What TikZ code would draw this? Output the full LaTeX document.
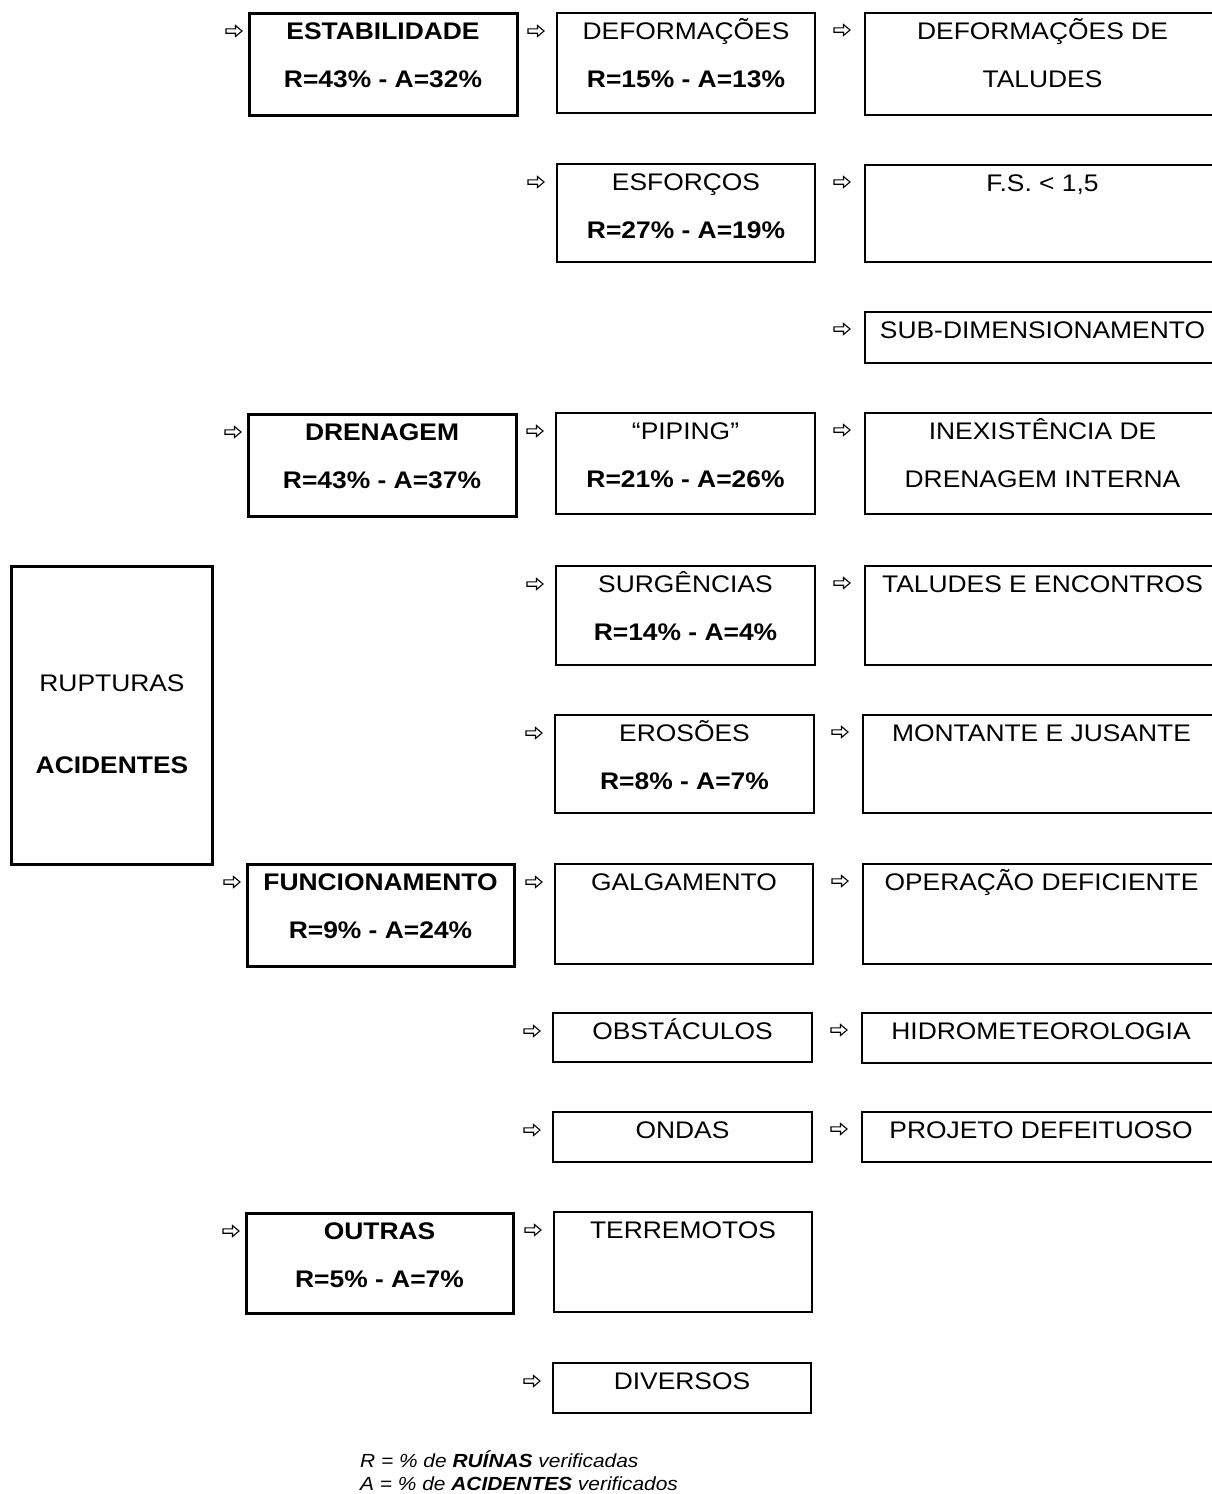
\documentclass[tikz,border=0pt]{standalone}
\usepackage{fontspec}
\setmainfont{Liberation Sans}[FakeStretch=1.1]
\usetikzlibrary{calc}

% box with one or two centred lines of text, placed by its top-left corner
\newcommand\flowbox[8]{%
  \node[#1, minimum width=#5pt, minimum height=#6pt, anchor=north west] (#2) at (#3,#4) {};
  \node[lbl] (#2-a) at ($(#2.north)+(0,26)$) {#7};
  \if\relax\detokenize{#8}\relax\else
    \node[lbl] (#2-b) at ($(#2.north)+(0,74)$) {#8};
  \fi
}

\tikzset{
  thickbox/.style={draw, line width=3pt, inner sep=0pt, outer sep=0pt},
  thinbox/.style={draw, line width=1.5pt, inner sep=0pt, outer sep=0pt},
  lbl/.style={anchor=base, inner sep=0pt, font=\fontsize{24}{28}\selectfont},
  legend/.style={anchor=base west, inner sep=0pt, font=\fontsize{19}{22}\selectfont\itshape},
  warrow/.pic={\draw[line width=1.1pt, line join=miter]
    (-8,-2.2) -- (1.5,-2.2) -- (1.5,-5.5) -- (8,0) -- (1.5,5.5) -- (1.5,2.2) -- (-8,2.2) -- cycle;},
}

\begin{document}
\begin{tikzpicture}[x=1pt, y=-1pt]
\useasboundingbox (0,0) rectangle (1212,1494);
\clip (0,0) rectangle (1212,1494);

% root
\node[thickbox, minimum width=201pt, minimum height=298pt, anchor=north west] (root) at (11,566) {};
\node[lbl] (root-a) at (112,691) {RUPTURAS};
\node[lbl] (root-b) at (112,773) {\bfseries ACIDENTES};

% main groups
\flowbox{thickbox}{est}{249}{13}{268}{102}{\bfseries ESTABILIDADE}{\bfseries R=43\% - A=32\%}
\flowbox{thickbox}{dre}{248}{414}{268}{102}{\bfseries DRENAGEM}{\bfseries R=43\% - A=37\%}
\flowbox{thickbox}{fun}{247}{864}{267}{102}{\bfseries FUNCIONAMENTO}{\bfseries R=9\% - A=24\%}
\flowbox{thickbox}{out}{246}{1213}{267}{100}{\bfseries OUTRAS}{\bfseries R=5\% - A=7\%}

% causes
\flowbox{thinbox}{def}{557}{13}{258}{100}{DEFORMAÇÕES}{\bfseries R=15\% - A=13\%}
\flowbox{thinbox}{esf}{557}{164}{258}{98}{ESFORÇOS}{\bfseries R=27\% - A=19\%}
\flowbox{thinbox}{pip}{556}{413}{259}{101}{“PIPING”}{\bfseries R=21\% - A=26\%}
\flowbox{thinbox}{sur}{556}{566}{259}{99}{SURGÊNCIAS}{\bfseries R=14\% - A=4\%}
\flowbox{thinbox}{ero}{555}{715}{259}{98}{EROSÕES}{\bfseries R=8\% - A=7\%}
\flowbox{thinbox}{gal}{555}{864}{258}{100}{GALGAMENTO}{}
\flowbox{thinbox}{obs}{553}{1013}{259}{49}{OBSTÁCULOS}{}
\flowbox{thinbox}{ond}{553}{1112}{259}{50}{ONDAS}{}
\flowbox{thinbox}{ter}{554}{1212}{258}{100}{TERREMOTOS}{}
\flowbox{thinbox}{div}{553}{1363}{258}{50}{DIVERSOS}{}

% details
\flowbox{thinbox}{dta}{865}{13}{355}{102}{DEFORMAÇÕES DE}{TALUDES}
\flowbox{thinbox}{fsm}{865}{165}{355}{97}{F.S. < 1,5}{}
\flowbox{thinbox}{sub}{865}{312}{355}{51}{SUB-DIMENSIONAMENTO}{}
\flowbox{thinbox}{ine}{865}{413}{355}{101}{INEXISTÊNCIA DE}{DRENAGEM INTERNA}
\flowbox{thinbox}{tal}{865}{566}{355}{99}{TALUDES E ENCONTROS}{}
\flowbox{thinbox}{mon}{863}{715}{357}{98}{MONTANTE E JUSANTE}{}
\flowbox{thinbox}{ope}{863}{864}{357}{100}{OPERAÇÃO DEFICIENTE}{}
\flowbox{thinbox}{hid}{862}{1013}{358}{50}{HIDROMETEOROLOGIA}{}
\flowbox{thinbox}{pro}{862}{1112}{358}{50}{PROJETO DEFEITUOSO}{}

% white arrows in front of each box
\foreach \b in {est,dre,fun,out}
  \pic at ($(\b.north west)+(-15,18)$) {warrow};
\foreach \b in {def,esf,pip,sur,ero,gal,obs,ond,ter,div}
  \pic at ($(\b.north west)+(-21,18)$) {warrow};
\foreach \b in {dta,fsm,sub,ine,tal,mon,ope,hid,pro}
  \pic at ($(\b.north west)+(-23,17)$) {warrow};

% legend
\node[legend] (leg1) at (360,1467) {R = \% de \textbf{RUÍNAS} verificadas};
\node[legend] (leg2) at (360,1490) {A = \% de \textbf{ACIDENTES} verificados};
\end{tikzpicture}
\end{document}
